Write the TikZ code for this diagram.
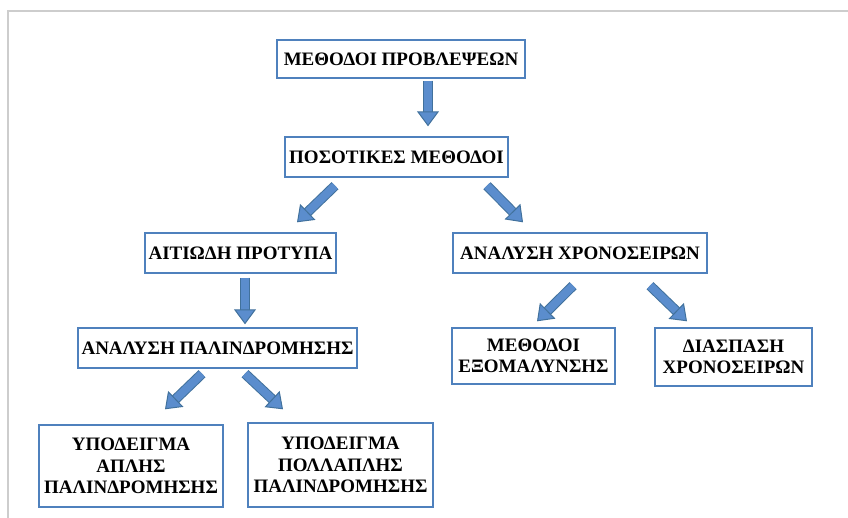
\documentclass[tikz,border=0pt]{standalone}
\usepackage{fontspec}
\setmainfont{Liberation Serif}
\usetikzlibrary{arrows.meta}
\definecolor{boxblue}{HTML}{4F81BD}
\definecolor{arrowblue}{HTML}{5B8DCD}
\definecolor{arrowline}{HTML}{41719C}
\definecolor{framegray}{HTML}{CDCDCD}
\begin{document}
\begin{tikzpicture}[x=1pt,y=-1pt,
  box/.style={draw=boxblue,line width=1.4pt,fill=white,align=center,inner sep=0pt,
    font=\bfseries\fontsize{19}{21.5}\selectfont},
  bigarrow/.style={draw=arrowline,line width=1pt,double=arrowblue,double distance=8pt,
    -{Triangle[width=22pt,length=15pt,line width=1pt,fill=arrowblue]}}]
\useasboundingbox (0,0) rectangle (848,518);
\draw [framegray,line width=2pt] (848,11) -- (8,11) -- (8,518);
\node [box,minimum width=248pt,minimum height=38pt] (methods) at (401,59) {ΜΕΘΟΔΟΙ ΠΡΟΒΛΕΨΕΩΝ};
\node [box,minimum width=223pt,minimum height=40pt] (quant) at (396.5,157) {ΠΟΣΟΤΙΚΕΣ ΜΕΘΟΔΟΙ};
\node [box,minimum width=191pt,minimum height=40pt] (causal) at (240.5,253) {ΑΙΤΙΩΔΗ ΠΡΟΤΥΠΑ};
\node [box,minimum width=254pt,minimum height=40pt] (series) at (580,253) {ΑΝΑΛΥΣΗ ΧΡΟΝΟΣΕΙΡΩΝ};
\node [box,minimum width=279pt,minimum height=40pt] (regress) at (217.5,348) {ΑΝΑΛΥΣΗ ΠΑΛΙΝΔΡΟΜΗΣΗΣ};
\node [box,minimum width=163pt,minimum height=56pt] (smooth) at (533.5,356) {ΜΕΘΟΔΟΙ\\ΕΞΟΜΑΛΥΝΣΗΣ};
\node [box,minimum width=157pt,minimum height=58pt] (decomp) at (733.5,357) {ΔΙΑΣΠΑΣΗ\\ΧΡΟΝΟΣΕΙΡΩΝ};
\node [box,minimum width=184pt,minimum height=82pt] (simple) at (131,466) {ΥΠΟΔΕΙΓΜΑ\\ΑΠΛΗΣ\\ΠΑΛΙΝΔΡΟΜΗΣΗΣ};
\node [box,minimum width=185pt,minimum height=84pt] (multiple) at (340.5,465) {ΥΠΟΔΕΙΓΜΑ\\ΠΟΛΛΑΠΛΗΣ\\ΠΑΛΙΝΔΡΟΜΗΣΗΣ};
\draw [bigarrow] ([xshift=27pt,yshift=-2pt]methods.south) -- ([xshift=31.5pt,yshift=10pt]quant.north);
\draw [bigarrow] ([xshift=-61.5pt,yshift=-8pt]quant.south) -- ([xshift=56.5pt,yshift=10pt]causal.north);
\draw [bigarrow] ([xshift=90.5pt,yshift=-8pt]quant.south) -- ([xshift=-57pt,yshift=10pt]series.north);
\draw [bigarrow] ([xshift=4.5pt,yshift=-4pt]causal.south) -- ([xshift=27.5pt,yshift=3pt]regress.north);
\draw [bigarrow] ([xshift=-7pt,yshift=-12pt]series.south) -- ([xshift=3.5pt,yshift=6pt]smooth.north);
\draw [bigarrow] ([xshift=70pt,yshift=-12pt]series.south) -- ([xshift=-46.5pt,yshift=6pt]decomp.north);
\draw [bigarrow] ([xshift=-15.5pt,yshift=-5pt]regress.south) -- ([xshift=34pt,yshift=15pt]simple.north);
\draw [bigarrow] ([xshift=27.5pt,yshift=-5pt]regress.south) -- ([xshift=-57.5pt,yshift=13pt]multiple.north);
\end{tikzpicture}
\end{document}
